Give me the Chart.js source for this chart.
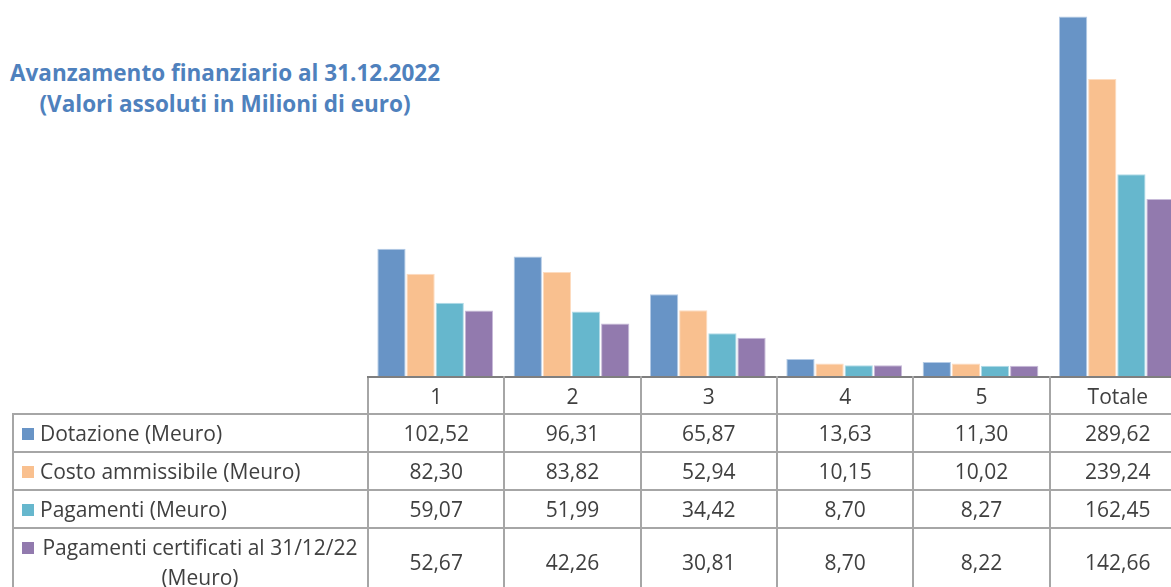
<!DOCTYPE html>
<html lang="it">
<head>
<meta charset="utf-8">
<title>Avanzamento finanziario al 31.12.2022</title>
<script src="https://cdn.jsdelivr.net/npm/chart.js@4/dist/chart.umd.min.js"></script>
<style>
  html, body { margin: 0; padding: 0; background: #fff; }
  body {
    width: 1171px; height: 587px; overflow: hidden; position: relative;
    font-family: "Open Sans", sans-serif; color: #404040;
  }
  #title {
    position: absolute; left: 0; top: 57px; width: 450px;
    text-align: center; color: #4f81bd; font-weight: bold;
    font-size: 22.5px; line-height: 31px;
  }
  #chart-box { position: absolute; left: 0; top: 0; }
  #data-table {
    position: absolute; left: 12px; top: 376px;
    border-collapse: collapse; table-layout: fixed;
    font-size: 21px;
  }
  #data-table td {
    border: 2px solid #a6a6a6; text-align: center; padding: 0;
    white-space: nowrap;
  }
  #data-table tr.head td { border-top: 2px solid #7f7f7f; height: 35px; }
  #data-table tr.head td.blank { border: none; }
  #data-table tr.row td { height: 36px; }
  #data-table tr.row.tall td { height: 66px; }
  #data-table td.label { text-align: left; padding-left: 8px; }
  #data-table tr.tall td.label { white-space: normal; line-height: 30px; }
  .wrap { display: flex; align-items: flex-start; }
  .wrap .text { flex: none; width: 320px; text-align: center; }
  .wrap .key { margin-top: 10px; flex: none; }
  .key { display: inline-block; width: 12px; height: 12px; margin-right: 6px; vertical-align: 1px; }
</style>
</head>
<body>
<div id="title">Avanzamento finanziario al 31.12.2022<br>(Valori assoluti in Milioni di euro)</div>
<div id="chart-box"><canvas id="chart" width="1200" height="380"></canvas></div>
<table id="data-table"></table>
<script>
const categories = ["1", "2", "3", "4", "5", "Totale"]
const dotazione = [102.52, 96.31, 65.87, 13.63, 11.30, 289.62]
const costoAmmissibile = [82.30, 83.82, 52.94, 10.15, 10.02, 239.24]
const pagamenti = [59.07, 51.99, 34.42, 8.70, 8.27, 162.45]
const pagamentiCertificati = [52.67, 42.26, 30.81, 8.70, 8.22, 142.66]

const seriesLabels = [
  "Dotazione (Meuro)",
  "Costo ammissibile (Meuro)",
  "Pagamenti (Meuro)",
  "Pagamenti certificati al 31/12/22 (Meuro)",
]
const seriesColors = ["#6894c6", "#f9c08f", "#66b7cd", "#927aae"]
const seriesBorders = ["#b4cbe6", "#fddcc0", "#b2dce8", "#c8bbd9"]
const seriesData = [dotazione, costoAmmissibile, pagamenti, pagamentiCertificati]

const fmt = v => v.toFixed(2).replace(".", ",")

const chart = new Chart(document.getElementById("chart").getContext("2d"), {
  type: "bar",
  data: {
    labels: categories,
    datasets: seriesData.map((data, i) => ({
      label: seriesLabels[i],
      data: data,
      backgroundColor: seriesColors[i],
      borderColor: seriesBorders[i],
      borderWidth: 1,
      categoryPercentage: 0.855,
      barPercentage: 0.97,
    })),
  },
  options: {
    responsive: false,
    devicePixelRatio: 1,
    animation: false,
    layout: { padding: { left: 367, right: 15, top: 16, bottom: 4 } },
    plugins: { legend: { display: false }, tooltip: { enabled: false } },
    scales: {
      x: { display: false },
      y: { display: false, min: 0, max: 290 },
    },
  },
})

// Data table under the bars, columns aligned with the category scale
function buildTable() {
  const area = chart.chartArea
  const colW = (area.right - area.left) / categories.length
  const table = document.getElementById("data-table")
  let html = "<colgroup><col style='width:" + (area.left - 12) + "px'>"
  categories.forEach(() => { html += "<col style='width:" + colW + "px'>" })
  html += "</colgroup>"
  html += "<tr class='head'><td class='blank'></td>"
  categories.forEach(c => { html += "<td>" + c + "</td>" })
  html += "</tr>"
  seriesData.forEach((data, i) => {
    const tall = i === seriesData.length - 1
    const key = "<span class='key' style='background:" + seriesColors[i] + "'></span>"
    html += "<tr class='row" + (tall ? " tall" : "") + "'><td class='label'>"
    if (tall) {
      html += "<div class='wrap'>" + key + "<span class='text'>" + seriesLabels[i] + "</span></div>"
    } else {
      html += key + seriesLabels[i]
    }
    html += "</td>"
    data.forEach(v => { html += "<td>" + fmt(v) + "</td>" })
    html += "</tr>"
  })
  table.style.width = (area.right - 12) + "px"
  table.innerHTML = html
}
buildTable()
</script>
</body>
</html>
